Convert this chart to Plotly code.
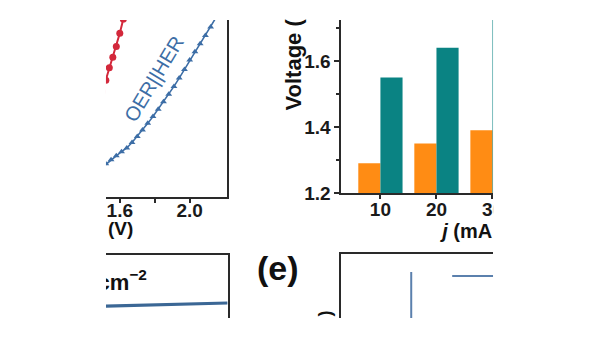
import plotly.graph_objects as go

# the rendered figure area measured ~591x327 in the photo; map reference pixels onto it
RW, RH = 591.0, 327.0
def px(p): return p / RW
def py(p): return 1 - p / RH

# ---- data ----
# (c) LSV curves: voltage (V) vs current density
blue_v = [1.43, 1.46, 1.49, 1.52, 1.55, 1.58, 1.61, 1.64, 1.67, 1.70, 1.73, 1.76, 1.79, 1.82,
          1.85, 1.88, 1.91, 1.94, 1.97, 2.00, 2.03, 2.06, 2.09, 2.12, 2.15, 2.18, 2.21]
blue_j = [11.0, 13.5, 16.0, 18.8, 21.0, 23.3, 25.6, 27.7, 30.8, 34.2, 37.9, 41.6, 45.5, 49.6,
          53.8, 58.1, 62.5, 67.2, 72.0, 77.4, 82.0, 86.6, 91.2, 96.0, 101.0, 106.0, 111.0]
red_v = [1.40, 1.42, 1.44, 1.46, 1.48, 1.50, 1.52, 1.54, 1.56, 1.58, 1.60, 1.62, 1.64]
red_j = [32.0, 36.5, 41.5, 47.0, 53.0, 59.5, 66.0, 73.0, 79.0, 85.0, 92.5, 100.5, 109.0]
lsv_ticks = [1.6, 2.0]
lsv_minor = [1.8]

# (d) bar chart
bar_j = [10, 20, 30]
bar_orange = [1.29, 1.35, 1.39]
bar_teal = [1.55, 1.64, 1.75]
bar_yticks = [1.2, 1.4, 1.6]
bar_yminor = [1.3, 1.5, 1.7]

# bottom-left stability trace
stab_t = [0, 2, 4, 6, 8, 10]
stab_v = [1.19, 1.198, 1.206, 1.215, 1.226, 1.238]

# (e) bottom-right traces
e_x = [9.2, 9.2, None, 14.6, 21.0]
e_y = [-0.3, 0.72, None, 0.656, 0.656]

BLUE = "#3d6ea6"
RED = "#d3283b"
ORANGE = "#ff8c14"
TEAL = "#0a8383"
AX = "#2a2a2a"
FONT = "Liberation Sans"
tickfont = dict(family=FONT, size=19, color="#1a1a1a", weight="bold")

fig = go.Figure()

# LSV
fig.add_trace(go.Scatter(x=blue_v, y=blue_j, mode="lines+markers",
                         line=dict(color=BLUE, width=1.6),
                         marker=dict(symbol="triangle-up", size=6, color=BLUE),
                         xaxis="x", yaxis="y", showlegend=False))
fig.add_trace(go.Scatter(x=red_v, y=red_j, mode="lines+markers",
                         line=dict(color=RED, width=2),
                         marker=dict(symbol="circle", size=7, color=RED),
                         xaxis="x", yaxis="y", showlegend=False))

# bars
fig.add_trace(go.Bar(x=bar_j, y=bar_orange, marker=dict(color=ORANGE, line=dict(width=0)),
                     xaxis="x2", yaxis="y2", showlegend=False))
fig.add_trace(go.Bar(x=bar_j, y=bar_teal, marker=dict(color=TEAL, line=dict(width=0)),
                     xaxis="x2", yaxis="y2", showlegend=False))

# bottom-left
fig.add_trace(go.Scatter(x=stab_t, y=stab_v, mode="lines",
                         line=dict(color="#3b6795", width=3.2),
                         xaxis="x3", yaxis="y3", showlegend=False))
# bottom-right
fig.add_trace(go.Scatter(x=e_x, y=e_y, mode="lines",
                         line=dict(color="#5b80ad", width=2),
                         xaxis="x4", yaxis="y4", showlegend=False, connectgaps=False))

# clipped text inside the photographed region (frame subplot in pixel units)
fig.add_trace(go.Scatter(x=[147], y=[284], mode="text", text=["mA cm<sup>−2</sup>"],
                         textposition="middle left",
                         textfont=dict(family=FONT, size=22, color="#111", weight="bold"),
                         xaxis="x5", yaxis="y5", showlegend=False, cliponaxis=True))
fig.add_trace(go.Scatter(x=[443], y=[233], mode="text", text=["<i>j</i> (mA cm<sup>−2</sup>)"],
                         textposition="middle right",
                         textfont=dict(family=FONT, size=20, color="#111", weight="bold"),
                         xaxis="x5", yaxis="y5", showlegend=False, cliponaxis=True))

common = dict(showgrid=False, zeroline=False, linecolor=AX, linewidth=2, tickcolor=AX,
              tickwidth=2)

fig.update_layout(
    autosize=True, margin=dict(l=0, r=0, t=0, b=0, pad=0),
    paper_bgcolor="white", plot_bgcolor="rgba(0,0,0,0)",
    bargap=0.21, bargroupgap=0, barmode="group",
    xaxis=dict(domain=[px(106), px(227)], range=[1.52, 2.2114], anchor="y",
               showline=True, ticks="outside", ticklen=4, tickvals=lsv_ticks,
               ticktext=["1.6", "2.0"], tickfont=tickfont, ticklabelstandoff=-9,
               minor=dict(tickvals=lsv_minor, ticks="outside", ticklen=4, tickcolor=AX, tickwidth=2),
               **common),
    yaxis=dict(domain=[py(197), py(20)], range=[0, 100], anchor="x", side="right",
               showline=True, ticks="", showticklabels=False, **common),
    xaxis2=dict(domain=[px(342), px(494)], range=[3.04, 30.12], anchor="y2",
                showline=True, ticks="outside", ticklen=4, tickvals=bar_j,
                tickfont=tickfont, ticklabelstandoff=-6, **common),
    yaxis2=dict(domain=[py(193), py(20)], range=[1.2, 1.724], anchor="x2",
                showline=True, ticks="outside", ticklen=5, tickvals=bar_yticks,
                ticktext=["1.2", "1.4", "1.6"], tickfont=tickfont, ticklabelstandoff=0,
                minor=dict(tickvals=bar_yminor, ticks="outside", ticklen=3, tickcolor=AX, tickwidth=2),
                **common),
    xaxis3=dict(domain=[px(106), px(228)], range=[0, 10], anchor="y3", side="top",
                showline=True, ticks="", showticklabels=False, **common),
    yaxis3=dict(domain=[py(318), py(255)], range=[1.0, 2.0], anchor="x3", side="right",
                showline=True, ticks="", showticklabels=False, **common),
    xaxis4=dict(domain=[px(342), px(494)], range=[0, 20], anchor="y4", side="top",
                showline=True, ticks="", showticklabels=False, **common),
    yaxis4=dict(domain=[py(318), py(254)], range=[0, 1], anchor="x4",
                showline=True, ticks="", showticklabels=False, **common),
    xaxis5=dict(domain=[px(106), px(494)], range=[106, 494], anchor="y5", visible=False),
    yaxis5=dict(domain=[py(318), py(20)], range=[318, 20], anchor="x5", visible=False),
)

# white mask outside the photographed region
for x0, x1, y0, y1 in [(0, px(106), 0, 1), (px(494), 1, 0, 1), (0, 1, 0, py(318)), (0, 1, py(20), 1)]:
    fig.add_shape(type="rect", xref="paper", yref="paper", x0=x0, x1=x1, y0=y0, y1=y1,
                  fillcolor="white", line=dict(width=0), layer="above")

ann = [
    dict(text="OER||HER", x=px(154), y=py(79), textangle=-59,
         font=dict(family=FONT, size=20, color=BLUE)),
    dict(text="(V)", x=px(121), y=py(229),
         font=dict(family=FONT, size=19, color="#111", weight="bold")),
    dict(text="Voltage (", x=px(293), y=py(65), textangle=-90,
         font=dict(family=FONT, size=22, color="#111", weight="bold")),
    dict(text="(e)", x=px(278), y=py(268),
         font=dict(family=FONT, size=34, color="#111", weight="bold")),
    dict(text=")", x=px(326), y=py(313), textangle=-90,
         font=dict(family=FONT, size=18, color="#111", weight="bold")),
]
for a in ann:
    fig.add_annotation(xref="paper", yref="paper", showarrow=False,
                       xanchor="center", yanchor="middle", **a)

fig.write_html("out.html", config={"responsive": True})
